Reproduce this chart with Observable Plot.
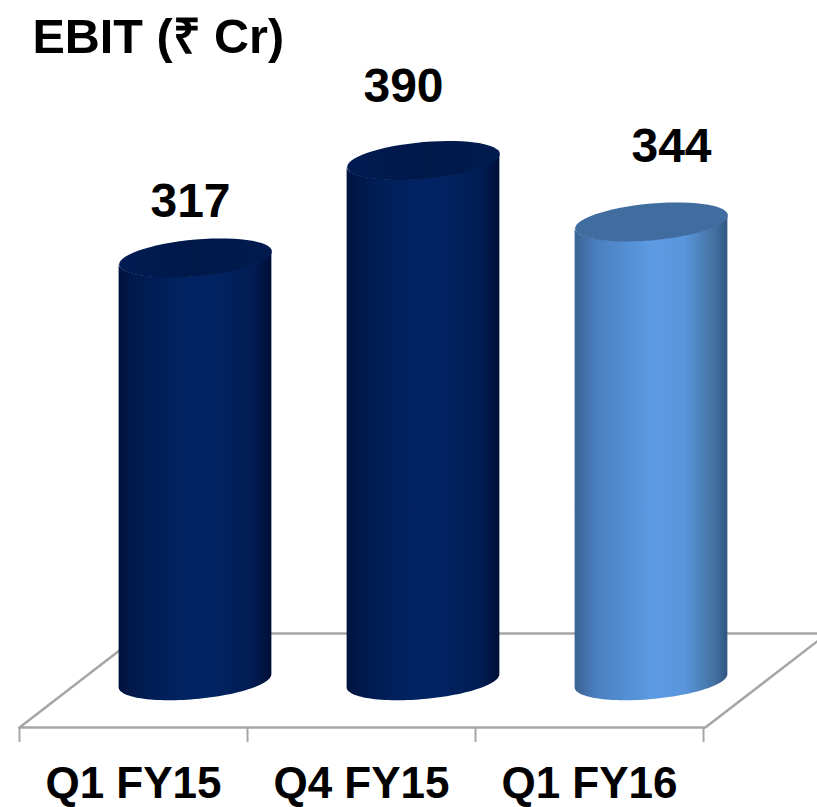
<!DOCTYPE html>
<html><head><meta charset="utf-8">
<script src="https://cdn.jsdelivr.net/npm/d3@7"></script>
<script src="https://cdn.jsdelivr.net/npm/@observablehq/plot@0.6"></script>
<style>html,body{margin:0;padding:0;background:#fff}svg{display:block;background:#fff}</style>
</head><body><div id="chart"></div>
<script>
const categories = ["Q1 FY15", "Q4 FY15", "Q1 FY16"];
const values = [317, 390, 344];
const title = "EBIT (₹ Cr)";

// Pseudo-3D projection, in data units
const depthX = 0.535;          // floor depth along x
const floorFront = -34.7, floorBack = 35.7;
const radiusX = 0.335, radiusY = 13.8, shear = 4.9;
const centre = i => i + 0.5 + depthX / 2 + 0.0044;

function rim(i, v, from, to) {
  return d3.range(0, 61).map(k => {
    const t = from + (to - from) * k / 60;
    const u = Math.cos(t);
    return {x: centre(i) + radiusX * u, y: v + radiusY * Math.sin(t) + shear * u};
  });
}
function body(i, v) {
  const top = rim(i, v, Math.PI, 2 * Math.PI), base = rim(i, 0, Math.PI, 2 * Math.PI);
  return top.map((p, k) => ({x: p.x, y1: base[k].y, y2: p.y}));
}
const floor = [
  {x: 0, y: floorFront}, {x: 3 + 0.008, y: floorFront},
  {x: 3 + 0.008 + depthX, y: floorBack}, {x: depthX, y: floorBack}, {x: 0, y: floorFront}
];
const labelNudge = [{dx: -5, dy: -27}, {dx: -20, dy: -45}, {dx: 20, dy: -46}];
const topFill = ["url(#capDark)", "url(#capDark)", "#416c9f"];
const bodyFill = ["url(#bodyDark)", "url(#bodyDark)", "url(#bodyLight)"];

function gradient(id, stops) {
  return `<linearGradient id="${id}" x1="0" x2="1" y1="0" y2="0">` +
    stops.map(([o, c]) => `<stop offset="${o}" stop-color="${c}"/>`).join("") + `</linearGradient>`;
}
const defs = () => {
  const g = document.createElementNS("http://www.w3.org/2000/svg", "defs");
  g.innerHTML =
    gradient("bodyDark", [[0, "#011340"], [0.12, "#001a4e"], [0.45, "#022363"], [0.62, "#022362"], [0.88, "#011c52"], [1, "#000f38"]]) +
    gradient("capDark", [[0, "#011c52"], [0.5, "#00184a"], [1, "#011b4e"]]) +
    gradient("bodyLight", [[0, "#3a6291"], [0.14, "#4a7fc0"], [0.5, "#5c9ae2"], [0.72, "#5a96dc"], [0.92, "#42709f"], [1, "#2f5580"]]);
  return g;
};

const marks = [
  defs,
  Plot.line(floor, {x: "x", y: "y", stroke: "#a6a6a6", strokeWidth: 2.5}),
  Plot.axisX({ticks: [0, 1, 2, 3], tickFormat: () => "", tickSize: 15, stroke: "#a6a6a6", strokeWidth: 2, label: null}),
  Plot.axisX({
    ticks: categories.map((_, i) => i + 0.5),
    tickFormat: d => categories[d - 0.5],
    tickSize: 0, tickPadding: 39, fontSize: 44, fontWeight: 700, fill: "#000", label: null
  })
];
categories.forEach((c, i) => {
  const v = values[i];
  marks.push(
    Plot.areaY(body(i, v), {x: "x", y1: "y1", y2: "y2", fill: bodyFill[i], curve: "linear"}),
    Plot.line(rim(i, v, 0, 2 * Math.PI), {x: "x", y: "y", fill: topFill[i], stroke: null, curve: "linear"}),
    Plot.text([v], {
      x: centre(i), y: d => d + radiusY + 8, text: d => String(d),
      fontSize: 48, fontWeight: 700, fill: "#000", lineAnchor: "middle",
      dx: labelNudge[i].dx, dy: labelNudge[i].dy
    })
  );
});
marks.push(Plot.text([title], {
  frameAnchor: "top-left", dx: 32, dy: 18, text: d => d,
  fontSize: 48.5, fontWeight: 700, fill: "#000", textAnchor: "start", lineAnchor: "top"
}));

const plot = Plot.plot({
  width: 817, height: 807,
  marginTop: 0, marginRight: 0, marginLeft: 0, marginBottom: 80,
  style: {fontFamily: "'Liberation Sans', Arial, sans-serif", background: "#fff", overflow: "hidden"},
  x: {type: "linear", domain: [0, 3], range: [19, 703]},
  y: {type: "linear", domain: [0, 317], range: [680.7, 257.5], axis: null},
  marks
});
document.getElementById("chart").append(plot);
</script>
</body></html>
